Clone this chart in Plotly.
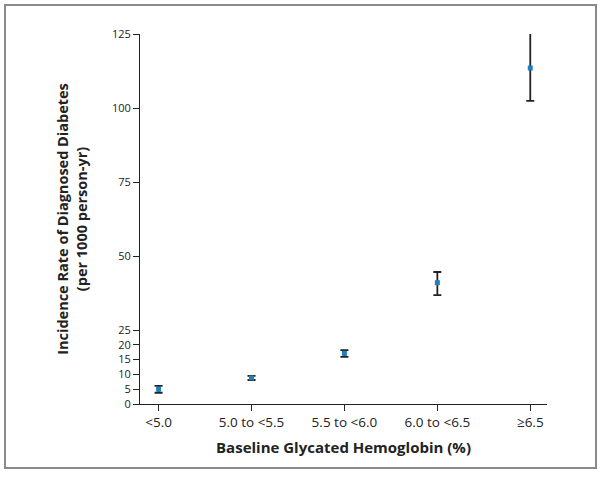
import plotly.graph_objects as go

categories = ["<5.0", "5.0 to <5.5", "5.5 to <6.0", "6.0 to <6.5", "≥6.5"]
rate = [5.0, 8.8, 17.1, 41.0, 113.5]
upper = [6.1, 9.5, 18.2, 44.6, 125.3]
lower = [3.8, 8.1, 15.9, 36.8, 102.4]

y_ticks = [0, 5, 10, 15, 20, 25, 50, 75, 100, 125]

err_plus = [u - r for u, r in zip(upper, rate)]
err_minus = [r - l for r, l in zip(rate, lower)]

fig = go.Figure(
    go.Scatter(
        x=categories,
        y=rate,
        mode="markers",
        marker=dict(color="#1f7fc0", size=5, symbol="square"),
        error_y=dict(
            type="data",
            symmetric=False,
            array=err_plus,
            arrayminus=err_minus,
            color="#222222",
            thickness=1.8,
            width=4,
        ),
        cliponaxis=False,
    )
)

font = "Open Sans, Lato, sans-serif"

fig.update_layout(
    width=600,
    height=479,
    paper_bgcolor="white",
    plot_bgcolor="white",
    showlegend=False,
    margin=dict(l=140, r=53, t=34, b=75),
    font=dict(family=font, size=13, color="#222222"),
    shapes=[
        dict(
            type="rect",
            xref="paper",
            yref="paper",
            x0=(5 - 140) / 407,
            x1=(596 - 140) / 407,
            y0=-(468 - 404) / 370,
            y1=1 + (34 - 5) / 370,
            line=dict(color="#8a8a8a", width=2),
        )
    ],
)

fig.update_xaxes(
    range=[-0.2, 4.18],
    showgrid=False,
    zeroline=False,
    showline=True,
    linecolor="#222222",
    linewidth=1,
    ticks="outside",
    ticklen=6,
    tickcolor="#222222",
    tickfont=dict(size=13.5),
    title=dict(
        text="<b>Baseline Glycated Hemoglobin (%)</b>",
        font=dict(size=15, family=font),
        standoff=12,
    ),
)

fig.update_yaxes(
    range=[0, 125],
    tickvals=y_ticks,
    showgrid=False,
    zeroline=False,
    showline=True,
    linecolor="#222222",
    linewidth=1,
    ticks="outside",
    ticklen=6,
    tickcolor="#222222",
    tickfont=dict(size=11),
    title=dict(
        text="<b>Incidence Rate of Diagnosed Diabetes<br>(per 1000 person-yr)</b>",
        font=dict(size=14.5, family=font),
        standoff=20,
    ),
)

fig.write_html(
    "out.html",
    config={"displayModeBar": False},
    post_script="document.body.style.margin='0';",
)
